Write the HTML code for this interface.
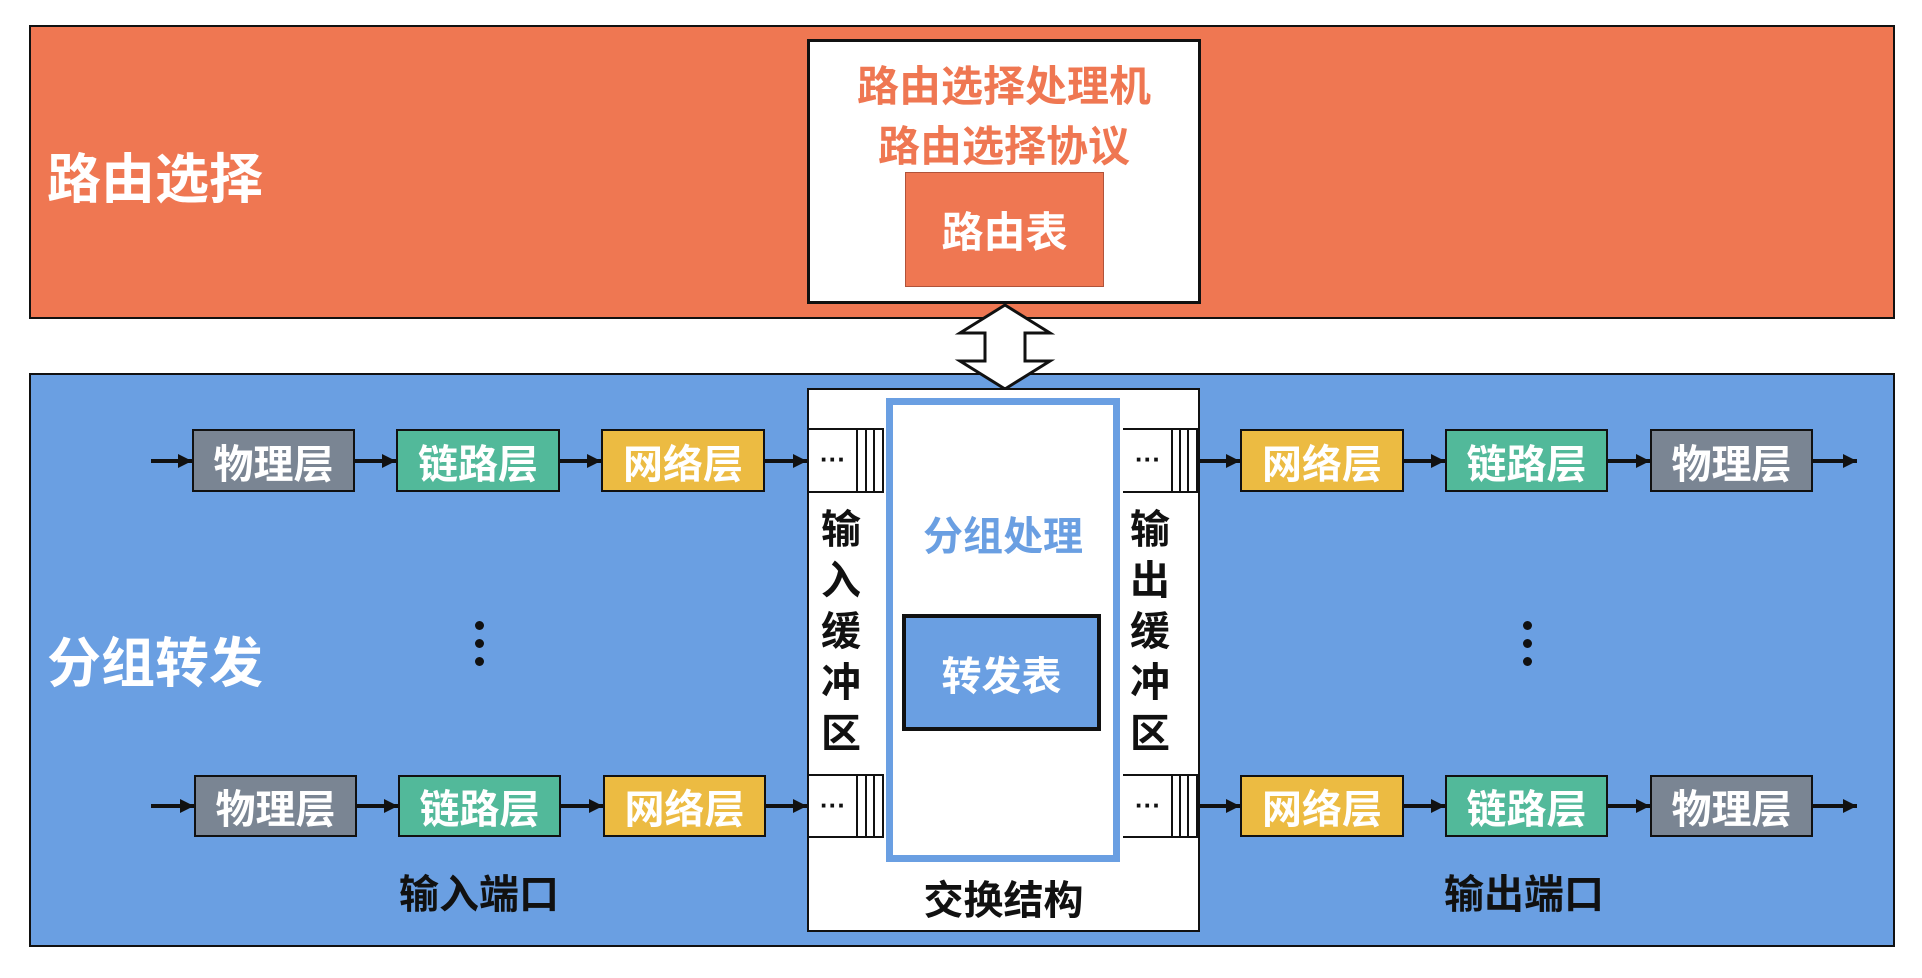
<!DOCTYPE html>
<html><head><meta charset="utf-8"><style>
*{margin:0;padding:0;box-sizing:border-box}
body{width:1922px;height:978px;background:#fff;position:relative;overflow:hidden;font-family:"Liberation Sans","Noto Sans CJK SC",sans-serif;font-weight:bold}
.a{position:absolute}
.t{position:absolute;display:flex;align-items:center;justify-content:center;white-space:nowrap}
.box{position:absolute;border:2px solid #111;display:flex;align-items:center;justify-content:center;color:#fff;font-size:40px;font-weight:bold}
.g{background:#7a8593}.gr{background:#52b99a}.y{background:#ecbb42}
.dot{position:absolute;width:9px;height:9px;border-radius:50%;background:#111}
</style></head><body>
<div class="a" style="left:29px;top:25px;width:1866px;height:294px;background:#ef7752;border:2px solid #111"></div>
<div class="a" style="left:29px;top:373px;width:1866px;height:574px;background:#6a9fe2;border:2px solid #111"></div>
<div class="t" style="left:47px;top:144px;height:60px;color:#fff;font-size:54px">路由选择</div>
<div class="t" style="left:47px;top:628px;height:60px;color:#fff;font-size:54px">分组转发</div>

<div class="a" style="left:807px;top:39px;width:394px;height:265px;background:#fff;border:3px solid #111"></div>
<div class="t" style="left:808px;top:60px;width:392px;height:46px;color:#ef7752;font-size:42px">路由选择处理机</div>
<div class="t" style="left:808px;top:120px;width:392px;height:46px;color:#ef7752;font-size:42px">路由选择协议</div>
<div class="t" style="left:905px;top:172px;width:199px;height:115px;background:#ef7752;border:1.5px solid #b0533a;color:#fff;font-size:42px">路由表</div>

<svg class="a" style="left:0;top:0" width="1922" height="978">
<polygon points="1005,305 1050,333 1025,333 1025,361 1050,361 1005,389 960,361 985,361 985,333 960,333" fill="#fff" stroke="#111" stroke-width="3"/>
</svg>

<div class="a" style="left:807px;top:388px;width:393px;height:544px;background:#fff;border:2px solid #111"></div>
<div class="a" style="left:886px;top:398px;width:234px;height:464px;border:7px solid #6a9fe2"></div>
<div class="t" style="left:886px;top:510px;width:234px;height:46px;color:#6a9fe2;font-size:40px">分组处理</div>
<div class="t" style="left:902px;top:614px;width:199px;height:117px;background:#6a9fe2;border:4px solid #111;color:#fff;font-size:40px">转发表</div>
<div class="t" style="left:807px;top:874px;width:393px;height:46px;color:#111;font-size:40px">交换结构</div>

<div class="a" style="left:818px;top:505px;width:46px;color:#111;font-size:40px;line-height:51px;text-align:center">输<br>入<br>缓<br>冲<br>区</div>
<div class="a" style="left:1127px;top:505px;width:46px;color:#111;font-size:40px;line-height:51px;text-align:center">输<br>出<br>缓<br>冲<br>区</div>

<svg class="a" style="left:0;top:0" width="1922" height="978">
<defs><marker id="m" markerWidth="8" markerHeight="8" refX="7" refY="4" orient="auto" markerUnits="userSpaceOnUse"><path d="M0,0 L8,4 L0,8z" fill="#111"/></marker>
<marker id="h" viewBox="0 0 10 10" markerWidth="14" markerHeight="14" refX="10" refY="5" orient="auto" markerUnits="userSpaceOnUse"><path d="M0,0 L10,5 L0,10z" fill="#111"/></marker></defs>
<g stroke="#111" stroke-width="2" fill="none">
<!-- input buffers -->
<path d="M807,429 H883 V492 H807 M857,429 V492 M866,429 V492 M874,429 V492"/>
<path d="M807,775 H883 V837 H807 M857,775 V837 M866,775 V837 M874,775 V837"/>
<path d="M1123,429 H1197 V492 H1123 M1172,429 V492 M1180,429 V492 M1188,429 V492"/>
<path d="M1123,775 H1197 V837 H1123 M1172,775 V837 M1180,775 V837 M1188,775 V837"/>
</g>
<g fill="#111" font-size="26">
<text x="820" y="468" font-family="Liberation Sans" font-weight="bold">···</text>
<text x="820" y="814" font-family="Liberation Sans" font-weight="bold">···</text>
<text x="1135" y="468" font-family="Liberation Sans" font-weight="bold">···</text>
<text x="1135" y="814" font-family="Liberation Sans" font-weight="bold">···</text>
</g>
<g stroke="#111" stroke-width="4" marker-end="url(#h)">
<line x1="151" y1="461" x2="192" y2="461"/><line x1="355" y1="461" x2="396" y2="461"/><line x1="560" y1="461" x2="601" y2="461"/><line x1="765" y1="461" x2="807" y2="461"/>
<line x1="151" y1="806" x2="194" y2="806"/><line x1="357" y1="806" x2="398" y2="806"/><line x1="561" y1="806" x2="603" y2="806"/><line x1="766" y1="806" x2="807" y2="806"/>
<line x1="1199" y1="461" x2="1240" y2="461"/><line x1="1404" y1="461" x2="1445" y2="461"/><line x1="1608" y1="461" x2="1650" y2="461"/><line x1="1813" y1="461" x2="1857" y2="461"/>
<line x1="1199" y1="806" x2="1240" y2="806"/><line x1="1404" y1="806" x2="1445" y2="806"/><line x1="1608" y1="806" x2="1650" y2="806"/><line x1="1813" y1="806" x2="1857" y2="806"/>
</g>
</svg>

<div class="box g" style="left:192px;top:429px;width:163px;height:63px">物理层</div>
<div class="box gr" style="left:396px;top:429px;width:164px;height:63px">链路层</div>
<div class="box y" style="left:601px;top:429px;width:164px;height:63px">网络层</div>
<div class="box g" style="left:194px;top:775px;width:163px;height:62px">物理层</div>
<div class="box gr" style="left:398px;top:775px;width:163px;height:62px">链路层</div>
<div class="box y" style="left:603px;top:775px;width:163px;height:62px">网络层</div>
<div class="box y" style="left:1240px;top:429px;width:164px;height:63px">网络层</div>
<div class="box gr" style="left:1445px;top:429px;width:163px;height:63px">链路层</div>
<div class="box g" style="left:1650px;top:429px;width:163px;height:63px">物理层</div>
<div class="box y" style="left:1240px;top:775px;width:164px;height:62px">网络层</div>
<div class="box gr" style="left:1445px;top:775px;width:163px;height:62px">链路层</div>
<div class="box g" style="left:1650px;top:775px;width:163px;height:62px">物理层</div>

<div class="dot" style="left:475px;top:621px"></div><div class="dot" style="left:475px;top:639px"></div><div class="dot" style="left:475px;top:657px"></div>
<div class="dot" style="left:1523px;top:621px"></div><div class="dot" style="left:1523px;top:639px"></div><div class="dot" style="left:1523px;top:657px"></div>

<div class="t" style="left:379px;top:868px;width:200px;height:46px;color:#111;font-size:40px">输入端口</div>
<div class="t" style="left:1424px;top:868px;width:200px;height:46px;color:#111;font-size:40px">输出端口</div>
</body></html>
